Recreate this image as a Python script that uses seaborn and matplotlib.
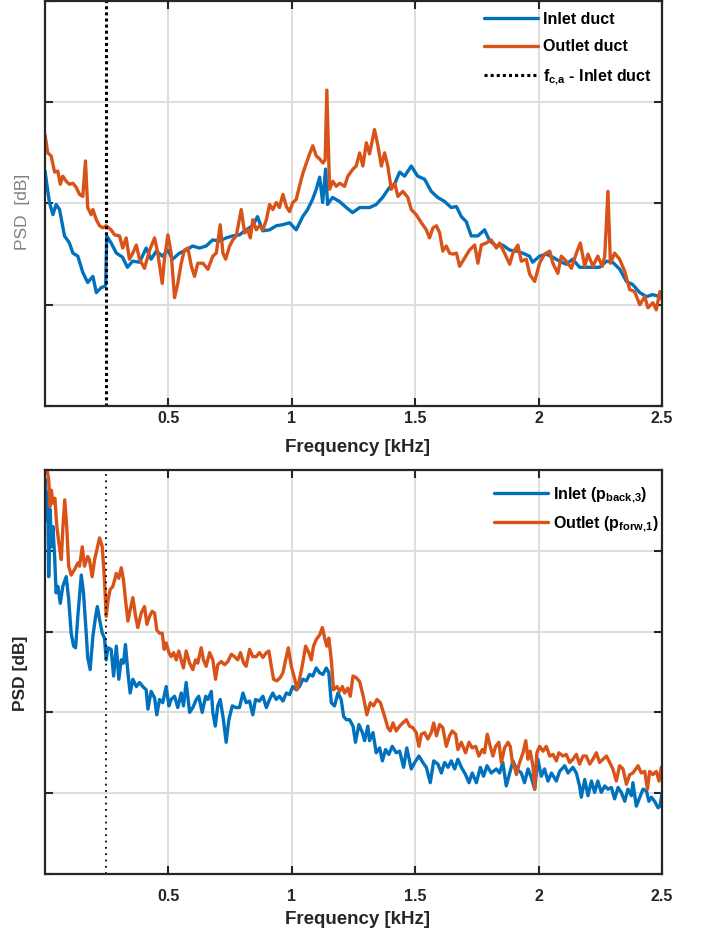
import numpy as np
import matplotlib
matplotlib.use("Agg")
import matplotlib.pyplot as plt
import seaborn as sns

# ---------------------------------------------------------------------------
# Spectra (frequency in kHz, PSD in dB)
# ---------------------------------------------------------------------------
duct_inlet_f = [
    0.000, 0.018, 0.032, 0.045, 0.059, 0.079, 0.099, 0.113, 0.133, 0.153,
    0.173, 0.194, 0.208, 0.228, 0.241, 0.246, 0.250, 0.268, 0.289, 0.314,
    0.334, 0.355, 0.383, 0.410, 0.430, 0.451, 0.476, 0.497, 0.517, 0.545,
    0.572, 0.598, 0.626, 0.653, 0.679, 0.707, 0.734, 0.760, 0.788, 0.815,
    0.841, 0.861, 0.882, 0.910, 0.937, 0.963, 0.991, 1.018, 1.044, 1.064,
    1.084, 1.099, 1.113, 1.125, 1.137, 1.145, 1.165, 1.193, 1.221, 1.246,
    1.275, 1.315, 1.342, 1.368, 1.396, 1.416, 1.437, 1.457, 1.484, 1.510,
    1.538, 1.565, 1.591, 1.619, 1.646, 1.667, 1.687, 1.707, 1.727, 1.754,
    1.781, 1.802, 1.829, 1.854, 1.883, 1.910, 1.935, 1.963, 1.976, 2.004,
    2.031, 2.057, 2.085, 2.112, 2.138, 2.166, 2.193, 2.219, 2.247, 2.275,
    2.300, 2.329, 2.356, 2.381, 2.410, 2.437, 2.462, 2.491, 2.500,
]
duct_inlet_psd = [
    -76.8, -79.9, -81.1, -80.1, -80.6, -83.2, -83.9, -84.9, -85.2, -86.8,
    -87.8, -87.2, -88.8, -88.3, -88.2, -88.0, -83.2, -83.9, -84.9, -85.3,
    -86.3, -85.7, -85.8, -84.4, -85.5, -84.7, -85.2, -84.6, -85.5, -84.9,
    -84.6, -84.2, -84.4, -84.2, -83.6, -83.7, -83.4, -83.2, -83.1, -82.6,
    -82.2, -81.3, -82.7, -82.6, -82.2, -82.1, -81.9, -82.6, -81.3, -80.6,
    -79.6, -78.6, -77.4, -79.9, -76.6, -80.1, -79.4, -79.8, -80.4, -80.9,
    -80.4, -80.4, -80.1, -79.4, -78.4, -78.1, -76.9, -77.3, -76.3, -77.3,
    -77.6, -78.8, -79.4, -79.8, -80.4, -80.3, -81.3, -81.8, -83.2, -83.2,
    -82.6, -83.7, -84.2, -84.1, -84.6, -84.7, -84.9, -85.2, -85.8, -85.2,
    -85.0, -85.3, -85.7, -86.0, -85.5, -86.3, -86.3, -86.3, -86.3, -85.7,
    -85.8, -86.5, -87.7, -88.0, -88.8, -89.2, -89.0, -89.2, -89.1,
]

duct_outlet_f = [
    0.000, 0.011, 0.025, 0.039, 0.052, 0.062, 0.072, 0.086, 0.099, 0.113,
    0.126, 0.140, 0.153, 0.164, 0.173, 0.187, 0.194, 0.208, 0.221, 0.234,
    0.248, 0.268, 0.282, 0.302, 0.315, 0.329, 0.342, 0.356, 0.370, 0.383,
    0.403, 0.424, 0.444, 0.457, 0.475, 0.484, 0.498, 0.511, 0.525, 0.538,
    0.552, 0.565, 0.579, 0.593, 0.606, 0.619, 0.640, 0.660, 0.680, 0.694,
    0.710, 0.721, 0.732, 0.748, 0.761, 0.775, 0.795, 0.809, 0.822, 0.832,
    0.842, 0.856, 0.869, 0.883, 0.897, 0.910, 0.923, 0.937, 0.950, 0.964,
    0.978, 0.991, 1.004, 1.018, 1.031, 1.045, 1.059, 1.072, 1.085, 1.099,
    1.113, 1.126, 1.135, 1.142, 1.153, 1.166, 1.180, 1.194, 1.214, 1.227,
    1.248, 1.261, 1.275, 1.288, 1.302, 1.315, 1.335, 1.349, 1.363, 1.376,
    1.389, 1.403, 1.417, 1.430, 1.450, 1.470, 1.484, 1.504, 1.525, 1.545,
    1.558, 1.572, 1.586, 1.599, 1.612, 1.626, 1.639, 1.653, 1.667, 1.680,
    1.700, 1.720, 1.741, 1.754, 1.768, 1.788, 1.808, 1.829, 1.842, 1.862,
    1.883, 1.896, 1.916, 1.930, 1.950, 1.964, 1.984, 2.004, 2.024, 2.045,
    2.058, 2.078, 2.092, 2.112, 2.133, 2.153, 2.169, 2.187, 2.200, 2.220,
    2.240, 2.258, 2.268, 2.281, 2.291, 2.308, 2.328, 2.349, 2.369, 2.389,
    2.410, 2.430, 2.443, 2.463, 2.477, 2.491, 2.500,
]
duct_outlet_psd = [
    -73.2, -75.0, -75.3, -76.9, -76.8, -78.1, -77.3, -77.8, -78.1, -78.0,
    -78.4, -79.1, -79.3, -75.8, -80.4, -81.1, -80.6, -81.6, -82.2, -82.4,
    -82.2, -82.6, -83.1, -83.2, -84.4, -83.4, -85.5, -84.9, -84.1, -85.5,
    -86.4, -84.6, -83.4, -84.9, -87.9, -85.5, -83.1, -84.9, -89.3, -87.9,
    -85.9, -84.6, -84.4, -86.2, -87.2, -85.9, -85.9, -86.5, -85.2, -84.9,
    -82.1, -84.9, -85.5, -84.2, -83.6, -83.2, -80.6, -82.9, -82.6, -83.4,
    -81.6, -82.6, -82.2, -82.6, -81.6, -80.1, -80.6, -79.9, -80.4, -79.1,
    -80.3, -80.8, -79.9, -79.6, -78.3, -77.0, -76.0, -75.1, -74.3, -75.3,
    -75.6, -76.0, -75.7, -68.8, -78.6, -77.8, -78.3, -78.0, -78.3, -77.3,
    -76.6, -76.3, -75.0, -76.3, -74.0, -75.1, -72.7, -74.3, -76.3, -75.0,
    -76.3, -78.6, -78.0, -79.3, -78.8, -79.4, -80.6, -81.1, -81.9, -82.6,
    -83.4, -82.4, -82.2, -82.9, -84.7, -84.2, -84.9, -85.0, -84.9, -86.2,
    -85.4, -84.6, -84.1, -85.9, -84.1, -83.9, -83.6, -84.4, -83.9, -84.9,
    -86.0, -84.9, -84.1, -85.7, -85.5, -87.0, -87.7, -85.9, -85.0, -84.7,
    -85.9, -86.9, -85.2, -85.7, -86.4, -84.9, -83.9, -86.2, -85.0, -86.2,
    -85.2, -86.2, -85.2, -78.8, -85.9, -84.9, -85.5, -86.7, -88.5, -88.7,
    -90.0, -89.2, -90.3, -89.8, -90.5, -88.7, -89.5,
]

wave_inlet_f = [
    0.002, 0.007, 0.011, 0.015, 0.021, 0.026, 0.032, 0.039, 0.045, 0.052,
    0.062, 0.072, 0.086, 0.096, 0.106, 0.116, 0.124, 0.133, 0.147, 0.156,
    0.167, 0.173, 0.183, 0.194, 0.205, 0.212, 0.221, 0.232, 0.241, 0.248,
    0.255, 0.268, 0.278, 0.289, 0.299, 0.309, 0.318, 0.326, 0.336, 0.345,
    0.356, 0.370, 0.383, 0.396, 0.410, 0.417, 0.430, 0.444, 0.453, 0.464,
    0.477, 0.491, 0.502, 0.511, 0.525, 0.538, 0.552, 0.561, 0.572, 0.586,
    0.599, 0.613, 0.623, 0.637, 0.651, 0.660, 0.674, 0.680, 0.690, 0.700,
    0.710, 0.723, 0.734, 0.745, 0.759, 0.775, 0.788, 0.802, 0.815, 0.829,
    0.842, 0.853, 0.869, 0.883, 0.897, 0.910, 0.923, 0.937, 0.950, 0.964,
    0.978, 0.991, 1.004, 1.018, 1.031, 1.045, 1.059, 1.072, 1.085, 1.099,
    1.113, 1.126, 1.140, 1.150, 1.160, 1.173, 1.187, 1.200, 1.210, 1.221,
    1.234, 1.248, 1.258, 1.272, 1.286, 1.295, 1.308, 1.315, 1.329, 1.342,
    1.356, 1.367, 1.380, 1.393, 1.407, 1.423, 1.437, 1.453, 1.466, 1.484,
    1.498, 1.515, 1.531, 1.545, 1.561, 1.575, 1.592, 1.606, 1.619, 1.633,
    1.646, 1.660, 1.673, 1.687, 1.704, 1.718, 1.731, 1.748, 1.764, 1.777,
    1.791, 1.808, 1.829, 1.842, 1.855, 1.869, 1.883, 1.896, 1.910, 1.930,
    1.943, 1.957, 1.971, 1.984, 1.997, 2.011, 2.024, 2.038, 2.052, 2.072,
    2.085, 2.106, 2.119, 2.139, 2.153, 2.166, 2.173, 2.187, 2.200, 2.214,
    2.227, 2.240, 2.254, 2.268, 2.281, 2.295, 2.308, 2.322, 2.335, 2.349,
    2.362, 2.376, 2.382, 2.396, 2.410, 2.423, 2.437, 2.447, 2.457, 2.470,
    2.484, 2.492, 2.500,
]
wave_inlet_psd = [
    -61.2, -66.2, -62.8, -73.2, -64.9, -69.5, -67.0, -70.7, -75.2, -74.4,
    -76.5, -74.4, -73.2, -76.0, -80.2, -81.8, -82.0, -78.1, -73.0, -75.2,
    -80.2, -83.2, -84.7, -80.6, -78.1, -76.9, -78.5, -80.2, -80.8, -83.5,
    -82.0, -82.2, -85.5, -81.8, -85.9, -83.5, -83.9, -81.6, -85.1, -87.6,
    -85.9, -86.8, -86.3, -86.8, -87.2, -89.6, -87.4, -88.2, -90.3, -88.4,
    -88.8, -86.8, -89.2, -88.4, -88.0, -89.4, -87.6, -89.2, -86.3, -90.0,
    -89.4, -88.4, -88.0, -90.0, -88.0, -88.4, -87.4, -90.0, -91.7, -89.2,
    -88.4, -90.9, -93.7, -90.9, -89.2, -89.4, -89.4, -87.6, -88.8, -88.6,
    -90.3, -88.4, -88.6, -88.0, -89.4, -88.4, -87.6, -88.4, -88.0, -88.6,
    -87.6, -87.8, -86.8, -87.2, -86.8, -85.9, -86.1, -85.3, -85.5, -84.5,
    -85.1, -85.3, -84.5, -85.1, -88.8, -89.2, -87.6, -88.4, -90.5, -90.9,
    -90.9, -91.7, -93.7, -91.5, -92.5, -93.5, -91.7, -93.5, -92.5, -95.0,
    -94.4, -96.0, -94.6, -95.2, -94.2, -95.0, -94.8, -96.8, -94.4, -97.0,
    -96.2, -95.4, -96.2, -96.8, -98.7, -96.0, -96.4, -97.5, -96.2, -96.8,
    -96.0, -97.0, -95.8, -96.8, -97.7, -98.7, -97.5, -98.7, -96.8, -97.9,
    -96.6, -97.5, -97.0, -97.5, -96.2, -99.1, -97.5, -96.0, -97.0, -97.5,
    -98.7, -97.0, -98.1, -99.5, -95.8, -97.9, -97.0, -98.5, -97.5, -98.5,
    -97.3, -96.6, -97.5, -96.8, -97.5, -99.1, -100.5, -98.3, -100.3, -98.5,
    -99.9, -98.5, -99.9, -99.1, -99.5, -99.3, -100.7, -99.3, -99.9, -101.0,
    -99.5, -100.3, -98.7, -101.6, -100.5, -99.5, -99.7, -101.0, -100.5, -101.0,
    -101.8, -101.6, -100.0,
]

wave_outlet_f = [
    0.000, 0.007, 0.015, 0.021, 0.026, 0.032, 0.040, 0.048, 0.056, 0.066,
    0.072, 0.080, 0.088, 0.096, 0.106, 0.120, 0.133, 0.140, 0.151, 0.160,
    0.173, 0.180, 0.191, 0.201, 0.210, 0.221, 0.232, 0.241, 0.248, 0.256,
    0.264, 0.275, 0.289, 0.299, 0.309, 0.318, 0.326, 0.336, 0.345, 0.356,
    0.367, 0.376, 0.390, 0.403, 0.413, 0.424, 0.434, 0.444, 0.453, 0.464,
    0.475, 0.483, 0.491, 0.502, 0.511, 0.521, 0.532, 0.542, 0.552, 0.561,
    0.572, 0.586, 0.599, 0.610, 0.619, 0.633, 0.642, 0.653, 0.667, 0.680,
    0.691, 0.700, 0.714, 0.728, 0.741, 0.755, 0.768, 0.781, 0.792, 0.805,
    0.815, 0.829, 0.842, 0.856, 0.869, 0.883, 0.897, 0.907, 0.917, 0.926,
    0.939, 0.953, 0.964, 0.975, 0.986, 0.998, 1.012, 1.021, 1.031, 1.042,
    1.056, 1.069, 1.079, 1.088, 1.099, 1.113, 1.124, 1.133, 1.142, 1.150,
    1.160, 1.169, 1.183, 1.194, 1.205, 1.214, 1.227, 1.237, 1.248, 1.261,
    1.275, 1.291, 1.304, 1.318, 1.331, 1.345, 1.359, 1.369, 1.380, 1.389,
    1.399, 1.410, 1.423, 1.437, 1.450, 1.464, 1.477, 1.491, 1.504, 1.515,
    1.525, 1.538, 1.551, 1.565, 1.575, 1.586, 1.599, 1.612, 1.626, 1.639,
    1.650, 1.664, 1.673, 1.687, 1.704, 1.718, 1.731, 1.745, 1.758, 1.772,
    1.781, 1.792, 1.804, 1.815, 1.826, 1.839, 1.849, 1.862, 1.876, 1.885,
    1.894, 1.903, 1.910, 1.923, 1.937, 1.948, 1.957, 1.966, 1.977, 1.984,
    1.993, 2.004, 2.018, 2.031, 2.045, 2.058, 2.072, 2.082, 2.099, 2.112,
    2.126, 2.139, 2.153, 2.166, 2.180, 2.193, 2.207, 2.220, 2.234, 2.247,
    2.261, 2.275, 2.288, 2.301, 2.315, 2.328, 2.342, 2.356, 2.369, 2.382,
    2.403, 2.416, 2.430, 2.441, 2.450, 2.463, 2.477, 2.488, 2.497, 2.500,
]
wave_outlet_psd = [
    -60.0, -59.7, -61.2, -64.5, -62.5, -64.1, -63.5, -67.0, -69.0, -71.1,
    -67.4, -63.7, -67.0, -71.9, -73.0, -72.3, -71.5, -71.9, -69.5, -71.9,
    -70.7, -71.1, -73.2, -71.1, -69.9, -68.4, -69.5, -73.6, -78.1, -76.0,
    -74.8, -74.4, -72.8, -73.4, -72.1, -73.6, -76.0, -78.7, -77.3, -75.8,
    -78.1, -79.5, -77.7, -76.9, -79.1, -78.1, -77.5, -77.7, -79.8, -80.2,
    -80.2, -82.2, -81.4, -82.6, -83.1, -82.6, -83.5, -82.4, -83.5, -84.5,
    -82.4, -83.9, -84.7, -83.5, -83.9, -82.0, -83.5, -84.3, -82.6, -83.5,
    -85.9, -84.1, -83.7, -84.1, -83.7, -82.8, -83.1, -83.5, -82.6, -83.9,
    -84.3, -82.2, -83.1, -83.1, -82.6, -83.2, -82.6, -82.4, -84.3, -85.9,
    -86.1, -85.7, -85.1, -83.5, -82.0, -84.3, -85.9, -87.2, -85.9, -84.3,
    -81.8, -82.6, -83.5, -81.8, -81.0, -80.4, -79.5, -80.8, -81.8, -80.8,
    -83.5, -87.2, -86.8, -87.4, -86.8, -87.6, -87.0, -88.0, -85.5, -85.7,
    -86.2, -88.2, -90.3, -88.8, -89.2, -88.4, -88.8, -89.8, -90.9, -91.9,
    -92.3, -91.3, -92.3, -91.7, -91.3, -90.9, -91.7, -91.9, -92.5, -94.2,
    -92.7, -92.5, -93.3, -92.5, -91.3, -92.9, -91.5, -91.9, -94.2, -92.9,
    -92.3, -92.7, -94.6, -93.7, -95.0, -93.7, -94.4, -94.2, -95.4, -94.6,
    -95.0, -92.7, -94.2, -95.4, -94.2, -93.7, -96.2, -94.4, -93.7, -94.2,
    -96.2, -96.8, -97.7, -96.2, -95.0, -93.5, -95.8, -94.8, -96.6, -99.5,
    -95.0, -94.2, -94.8, -94.2, -95.4, -95.2, -96.0, -95.0, -95.4, -95.2,
    -96.2, -95.8, -95.2, -96.4, -95.4, -95.4, -96.4, -95.8, -95.0, -96.2,
    -95.8, -95.4, -96.2, -97.0, -98.5, -96.6, -97.0, -98.9, -97.7, -97.5,
    -96.6, -97.5, -97.3, -99.5, -97.3, -97.7, -97.3, -98.5, -96.8, -96.8,
]

cutoff_khz = 0.248
freq_ticks = [0.5, 1.0, 1.5, 2.0, 2.5]
freq_tick_labels = ["0.5", "1", "1.5", "2", "2.5"]
top_labels = ["Inlet duct", "Outlet duct", r"$\mathbf{f_{c{,}a}}$ - Inlet duct"]
bottom_labels = [r"Inlet ($\mathbf{p_{back{,}3}}$)", r"Outlet ($\mathbf{p_{forw{,}1}}$)"]

# ---------------------------------------------------------------------------
# Styling
# ---------------------------------------------------------------------------
sns.set_theme(style="whitegrid")
plt.rcParams["font.family"] = ["Liberation Sans", "DejaVu Sans"]
plt.rcParams["mathtext.fontset"] = "custom"
plt.rcParams["mathtext.rm"] = "Liberation Sans"
plt.rcParams["mathtext.bf"] = "Liberation Sans:bold"
plt.rcParams["mathtext.it"] = "Liberation Sans:italic"

BLUE = "#0072BD"
ORANGE = "#D95319"
INK = "#262626"
W, H = 705, 938
LW = 2.4

fig = plt.figure(figsize=(W / 100, H / 100), dpi=100)
fig.patch.set_facecolor("white")
ax_top = fig.add_axes([45 / W, 1 - 406 / H, 617 / W, 405 / H])
ax_bot = fig.add_axes([45 / W, 1 - 874 / H, 617 / W, 404 / H])


def style_axes(ax, ylim, tick_pad):
    ax.set_facecolor("white")
    ax.set_xlim(0, 2.5)
    ax.set_ylim(*ylim)
    ax.set_xticks(freq_ticks)
    ax.set_xticklabels(freq_tick_labels, fontweight="bold", fontsize=11.5, color=INK)
    ax.set_yticks(np.arange(ylim[0], ylim[1] + 1, 10))
    ax.set_yticklabels([])
    ax.grid(True, color="#dedede", linewidth=1.4)
    ax.set_axisbelow(True)
    ax.tick_params(axis="both", which="major", direction="in", length=6, width=1.5,
                   color=INK, top=True, right=True, bottom=True, left=True)
    ax.tick_params(axis="x", pad=tick_pad)
    for sp in ax.spines.values():
        sp.set_visible(True)
        sp.set_color(INK)
        sp.set_linewidth(1.6)


def add_legend(ax, x_px, top_px, spacing):
    leg = ax.legend(loc="upper left", bbox_to_anchor=(x_px / W, 1 - top_px / H),
                    bbox_transform=fig.transFigure, frameon=False,
                    prop={"weight": "bold", "size": 11.5}, handlelength=3.4,
                    handletextpad=0.3, labelspacing=spacing, borderpad=0,
                    borderaxespad=0)
    for t in leg.get_texts():
        t.set_color("black")
    return leg


# --- upper panel: duct spectra --------------------------------------------
sns.lineplot(x=duct_inlet_f, y=duct_inlet_psd, ax=ax_top, color=BLUE, linewidth=LW,
             estimator=None, sort=False, label=top_labels[0])
sns.lineplot(x=duct_outlet_f, y=duct_outlet_psd, ax=ax_top, color=ORANGE, linewidth=LW,
             estimator=None, sort=False, label=top_labels[1])
ax_top.axvline(cutoff_khz, color="black", linewidth=2.2, linestyle=(0, (1, 1)),
               dash_capstyle="butt", label=top_labels[2])
style_axes(ax_top, (-100, -60), 3.5)
ax_top.set_xlabel("Frequency [kHz]", fontweight="bold", fontsize=13.5, color=INK, va="center")
ax_top.xaxis.set_label_coords(0.506, (406 - 447) / 405)
ax_top.set_ylabel("PSD  [dB]", fontsize=12.5, color="#808080", va="center")
ax_top.yaxis.set_label_coords((23 - 45) / 617, (406 - 212) / 405)
add_legend(ax_top, 484, 12, 0.78)

# --- lower panel: wave components -----------------------------------------
sns.lineplot(x=wave_inlet_f, y=wave_inlet_psd, ax=ax_bot, color=BLUE, linewidth=LW,
             estimator=None, sort=False, label=bottom_labels[0])
sns.lineplot(x=wave_outlet_f, y=wave_outlet_psd, ax=ax_bot, color=ORANGE, linewidth=LW,
             estimator=None, sort=False, label=bottom_labels[1])
ax_bot.axvline(cutoff_khz, color="black", linewidth=1.3, linestyle=(0, (1, 2.5)),
               dash_capstyle="butt")
style_axes(ax_bot, (-110, -60), 10.5)
ax_bot.set_xlabel("Frequency [kHz]", fontweight="bold", fontsize=13.5, color=INK, va="center")
ax_bot.xaxis.set_label_coords(0.506, (874 - 919) / 404)
ax_bot.set_ylabel("PSD [dB]", fontweight="bold", fontsize=12.5, color=INK, va="center")
ax_bot.yaxis.set_label_coords((21 - 45) / 617, (874 - 673) / 404)
add_legend(ax_bot, 494, 485, 0.6)

fig.savefig("out.png", dpi=100, facecolor="white")
